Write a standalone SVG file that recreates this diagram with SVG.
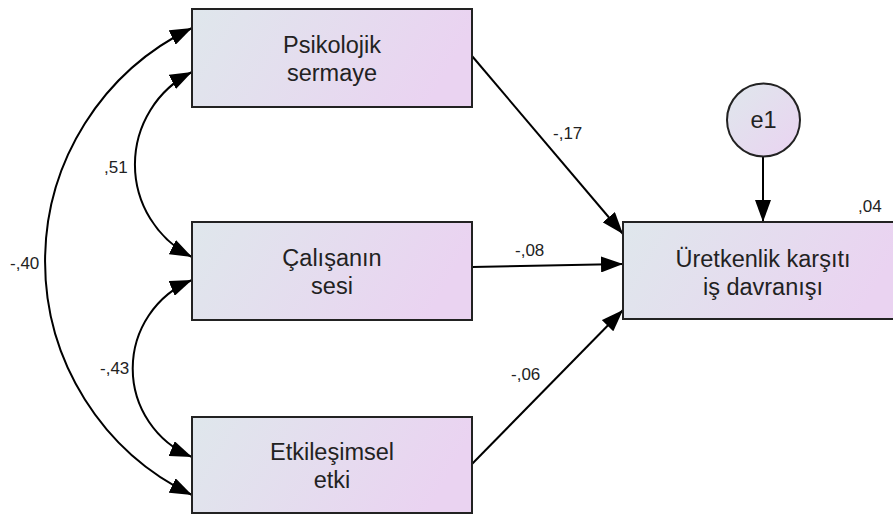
<svg xmlns="http://www.w3.org/2000/svg" width="893" height="515" viewBox="0 0 893 515">
<style>
.box{stroke:#222;stroke-width:2;fill:url(#g)}
.t{font-family:"Liberation Sans",Arial,sans-serif;font-size:23.5px;fill:#222;text-anchor:middle}
.l{font-family:"Liberation Sans",Arial,sans-serif;font-size:17px;fill:#222}
.c{fill:none;stroke:#000;stroke-width:2}
</style>
<defs>
<linearGradient id="g" x1="0" y1="0" x2="1" y2="0.2">
<stop offset="0" stop-color="#dfe7ec"/>
<stop offset="1" stop-color="#ead3f1"/>
</linearGradient>
<linearGradient id="gc" x1="0" y1="0" x2="1" y2="1">
<stop offset="0" stop-color="#dfe7ec"/>
<stop offset="1" stop-color="#ead3f1"/>
</linearGradient>
<marker id="a" viewBox="0 0 22 16" refX="22" refY="8" markerWidth="22" markerHeight="16" markerUnits="userSpaceOnUse" orient="auto-start-reverse">
<path d="M0,0 L22,8 L0,16 Z" fill="#000"/>
</marker>
</defs>
<g id="connectors">
<path class="c" d="M192,72 A103.5,103.5 0 0 0 192,257" marker-start="url(#a)" marker-end="url(#a)"/>
<path class="c" d="M192,280 A95.7,95.7 0 0 0 192,457" marker-start="url(#a)" marker-end="url(#a)"/>
<path class="c" d="M192,28 A259,259 0 0 0 192,495" marker-start="url(#a)" marker-end="url(#a)"/>
<path class="c" d="M472,56 L623,234" marker-end="url(#a)"/>
<path class="c" d="M472,267 L623,264" marker-end="url(#a)"/>
<path class="c" d="M472,464 L623,310" marker-end="url(#a)"/>
<path class="c" d="M763,157 L763,222" marker-end="url(#a)"/>
<text class="l" x="104" y="173">,51</text>
<text class="l" x="100" y="374">-,43</text>
<text class="l" x="10" y="269">-,40</text>
<text class="l" x="553" y="139">-,17</text>
<text class="l" x="515" y="256">-,08</text>
<text class="l" x="511" y="380">-,06</text>
</g>
<g id="psikolojik">
<rect class="box" x="192" y="9" width="280" height="98"/>
<text class="t" x="332" y="53">Psikolojik</text>
<text class="t" x="332" y="81">sermaye</text>
</g>
<g id="calisanin">
<rect class="box" x="192" y="222" width="280" height="98"/>
<text class="t" x="332" y="266">Çalışanın</text>
<text class="t" x="332" y="294">sesi</text>
</g>
<g id="etkilesimsel">
<rect class="box" x="192" y="417" width="280" height="96"/>
<text class="t" x="332" y="460">Etkileşimsel</text>
<text class="t" x="332" y="488">etki</text>
</g>
<g id="uretkenlik">
<rect class="box" x="623" y="222" width="280" height="97"/>
<text class="t" x="763" y="267">Üretkenlik karşıtı</text>
<text class="t" x="763" y="295">iş davranışı</text>
<text class="l" x="858" y="212">,04</text>
</g>
<g id="e1">
<circle cx="763.5" cy="120" r="36.5" stroke="#222" stroke-width="2" fill="url(#gc)"/>
<text class="t" x="763.5" y="128">e1</text>
</g>
</svg>
